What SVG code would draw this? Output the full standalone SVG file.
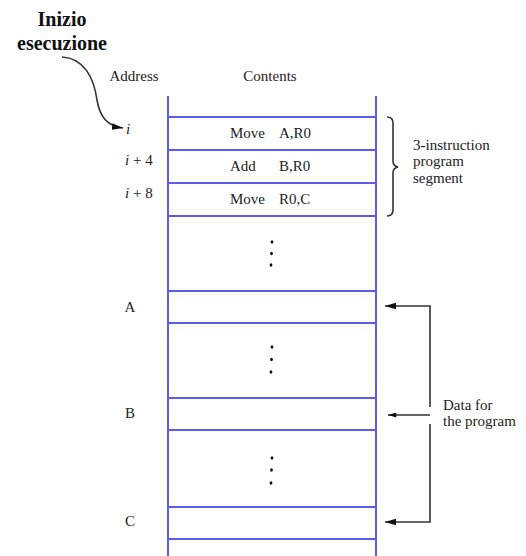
<svg xmlns="http://www.w3.org/2000/svg" width="526" height="556" viewBox="0 0 526 556">
<defs>
<style>
.t{font-family:"Liberation Serif","Times New Roman",serif;font-size:15px;fill:#222}
.it{font-style:italic}
.bold{font-family:"Liberation Serif","Times New Roman",serif;font-size:20px;font-weight:bold;fill:#111}
.mem{stroke:#5b5bf0;stroke-width:2;fill:none}
.con{stroke:#333;stroke-width:1.6;fill:none}
.dot{fill:#111}
</style>
<marker id="ah" viewBox="0 0 10 6" refX="10" refY="3" markerWidth="11" markerHeight="7" markerUnits="userSpaceOnUse" orient="auto">
<path d="M0,0 L10,3 L0,6 z" fill="#111"/>
</marker>
<marker id="ahs" viewBox="0 0 10 6" refX="10" refY="3" markerWidth="9" markerHeight="5" markerUnits="userSpaceOnUse" orient="auto">
<path d="M0,0 L10,3 L0,6 z" fill="#111"/>
</marker>
</defs>
<rect width="526" height="556" fill="#fff"/>
<text x="-12" y="297" font-family="Liberation Sans, Arial, sans-serif" font-size="22" fill="#111">n</text>

<g id="title">
<text class="bold" x="62" y="26" text-anchor="middle">Inizio</text>
<text class="bold" x="62" y="50" text-anchor="middle">esecuzione</text>
</g>

<g id="headers">
<text class="t" x="134" y="81" text-anchor="middle">Address</text>
<text class="t" x="270" y="81" text-anchor="middle">Contents</text>
</g>

<g id="memory">
<line class="mem" x1="168" y1="96" x2="168" y2="556"/>
<line class="mem" x1="376" y1="96" x2="376" y2="556"/>
<line class="mem" x1="168" y1="117" x2="376" y2="117"/>
<line class="mem" x1="168" y1="150" x2="376" y2="150"/>
<line class="mem" x1="168" y1="183" x2="376" y2="183"/>
<line class="mem" x1="168" y1="216" x2="376" y2="216"/>
<line class="mem" x1="168" y1="291" x2="376" y2="291"/>
<line class="mem" x1="168" y1="323" x2="376" y2="323"/>
<line class="mem" x1="168" y1="398" x2="376" y2="398"/>
<line class="mem" x1="168" y1="430" x2="376" y2="430"/>
<line class="mem" x1="168" y1="507" x2="376" y2="507"/>
<line class="mem" x1="168" y1="539" x2="376" y2="539"/>
</g>

<g id="row-i">
<text class="t it" x="126" y="134">i</text>
<text class="t" x="230" y="138">Move</text>
<text class="t" x="279" y="138">A,R0</text>
</g>
<g id="row-i4">
<text class="t" x="125" y="165"><tspan class="it">i</tspan> + 4</text>
<text class="t" x="230" y="171">Add</text>
<text class="t" x="279" y="171">B,R0</text>
</g>
<g id="row-i8">
<text class="t" x="125" y="198"><tspan class="it">i</tspan> + 8</text>
<text class="t" x="230" y="204">Move</text>
<text class="t" x="279" y="204">R0,C</text>
</g>

<g id="gap1">
<ellipse class="dot" cx="272" cy="242" rx="1.4" ry="1.7"/>
<ellipse class="dot" cx="271.5" cy="253.5" rx="1.4" ry="1.7"/>
<ellipse class="dot" cx="271" cy="265" rx="1.4" ry="1.7"/>
</g>
<g id="gap2">
<ellipse class="dot" cx="272" cy="347" rx="1.4" ry="1.7"/>
<ellipse class="dot" cx="271.5" cy="359.5" rx="1.4" ry="1.7"/>
<ellipse class="dot" cx="271" cy="372" rx="1.4" ry="1.7"/>
</g>
<g id="gap3">
<ellipse class="dot" cx="272" cy="458" rx="1.4" ry="1.7"/>
<ellipse class="dot" cx="271.5" cy="470" rx="1.4" ry="1.7"/>
<ellipse class="dot" cx="271" cy="483" rx="1.4" ry="1.7"/>
</g>

<g id="row-A"><text class="t" x="130" y="312" text-anchor="middle">A</text></g>
<g id="row-B"><text class="t" x="130" y="418" text-anchor="middle">B</text></g>
<g id="row-C"><text class="t" x="130" y="526" text-anchor="middle">C</text></g>

<g id="segment-label">
<text class="t" x="413" y="150">3-instruction</text>
<text class="t" x="413" y="166">program</text>
<text class="t" x="413" y="183">segment</text>
</g>

<g id="data-label">
<text class="t" x="443" y="410">Data for</text>
<text class="t" x="443" y="426">the program</text>
</g>

<g id="connectors">
<path class="con" d="M62,57 C84,58 94,78 97,100 C100,118 108,126 123,128" marker-end="url(#ah)"/>
<path class="con" d="M387,117 Q393,117 393,123 L393,161 Q393,166 398,167 Q393,168 393,173 L393,210 Q393,216 387,216"/>
<path class="con" d="M430,407 L430,306 L385,306" marker-end="url(#ah)"/>
<path class="con" d="M430,415 L388,415" marker-end="url(#ahs)"/>
<path class="con" d="M430,424 L430,522 L385,522" marker-end="url(#ah)"/>
</g>
</svg>
